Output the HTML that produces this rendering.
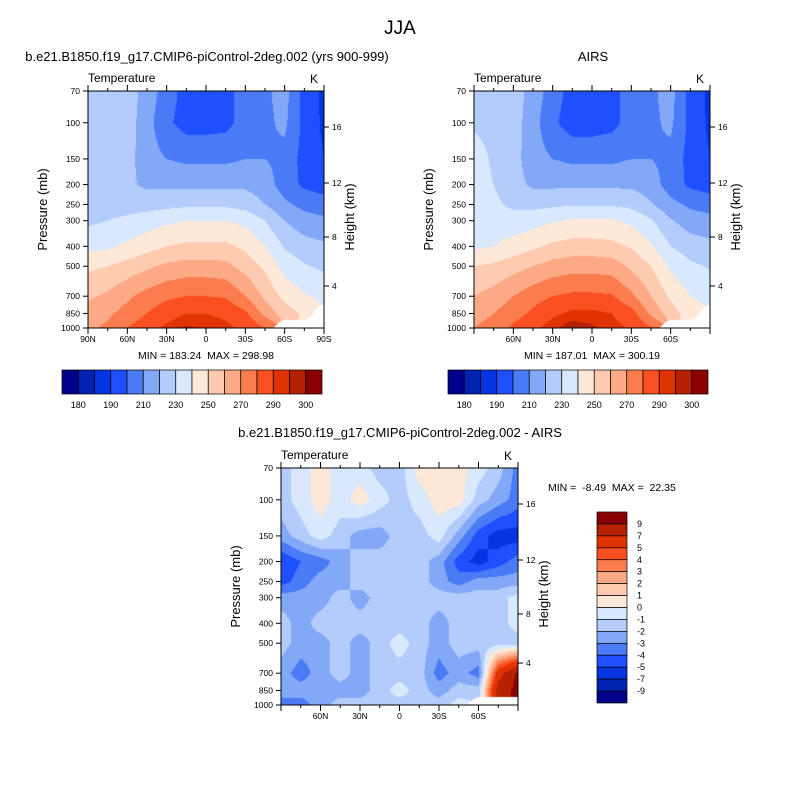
<!DOCTYPE html>
<html><head><meta charset="utf-8"><style>
body{margin:0;background:#fff;width:800px;height:800px;position:relative;overflow:hidden;font-family:"Liberation Sans",sans-serif;color:#000}
.t{position:absolute;white-space:nowrap}
canvas{position:absolute}
svg{position:absolute;left:0;top:0}
</style></head><body>
<div class="t" style="left:0;width:800px;text-align:center;top:18px;font-size:19px">JJA</div>
<div class="t" style="left:7px;width:400px;text-align:center;top:49px;font-size:13px">b.e21.B1850.f19_g17.CMIP6-piControl-2deg.002 (yrs 900-999)</div>
<div class="t" style="left:493px;width:200px;text-align:center;top:49px;font-size:13px">AIRS</div>
<div class="t" style="left:200px;width:400px;text-align:center;top:425px;font-size:13px">b.e21.B1850.f19_g17.CMIP6-piControl-2deg.002 - AIRS</div>
<canvas id="c1" width="236" height="237" style="left:88px;top:91px"></canvas>
<canvas id="c2" width="236" height="237" style="left:474px;top:91px"></canvas>
<canvas id="c3" width="237" height="237" style="left:281px;top:468px"></canvas>
<svg id="ov" width="800" height="800"></svg>
<script>
const pLevels=[70,100,150,200,250,300,400,500,700,850,1000];
const tempBounds=[180,185,190,200,210,220,230,240,250,260,270,280,290,295,300];
const diffBounds=[-9,-7,-5,-4,-3,-2,-1,0,1,2,3,4,5,7,9];
const tempLabels=["180","190","210","230","250","270","290","300"];
const diffLabels=["9","7","5","4","3","2","1","0","-1","-2","-3","-4","-5","-7","-9"];
const colors=["#00008b","#0022b0","#0535e0","#1e50ff","#4a7af5","#84a8f8","#b3ccfb","#d9e8fc","#fee9d8","#fecbb0","#fca985","#fb7c4e","#fa4f20","#e03300","#b42000","#8b0000"];
const modelT=[
[225,225,225,216,205,196,195,196,205,208,214,196,188],
[225,225,225,214,202,196,196,197,204,208,212,197,188],
[225,225,224,214,210,208,208,208,210,210,207,196,190],
[225,225,222,218,218,218,218,218,218,215,205,198,195],
[226,226,226,226,227,228,228,228,226,220,212,207,205],
[228,230,232,235,238,240,240,240,237,230,220,214,212],
[237,238,242,246,250,252,252,252,248,240,229,224,222],
[248,250,254,258,262,264,264,263,256,248,236,231,228],
[258,262,268,274,278,280,280,279,270,258,247,241,238],
[265,268,274,280,286,290,290,288,282,267,255,248,null],
[268,272,280,286,292,296,294,292,288,280,null,null,null]];
const obsT=[
[226,225,225,216,205,196,195,196,205,208,214,196,188],
[228,226,225,214,202,195,195,197,204,208,212,197,188],
[236,228,224,214,210,208,208,208,210,210,207,196,190],
[236,230,224,218,218,218,218,218,218,215,205,198,195],
[236,232,228,227,228,229,229,229,227,221,213,208,206],
[236,234,234,236,239,241,241,241,238,231,221,215,213],
[238,240,244,248,252,254,254,253,249,241,230,225,223],
[250,252,256,260,264,266,266,265,258,250,238,232,229],
[260,264,270,276,280,282,282,281,272,260,248,240,238],
[266,270,276,282,288,292,292,290,284,268,255,244,null],
[270,274,282,288,294,298,296,293,289,281,null,null,null]];
const diffT=[
[-1.5,-0.5,0.5,-0.5,-0.5,-1.5,-1.5,0.5,0.5,0.5,-0.5,-1.5,-3.5],
[-1.5,-0.5,0.5,-0.5,0.5,-0.5,-1.5,-0.5,0.5,0.5,-1.5,-2.5,-3.5],
[-2.5,-1.5,-0.5,-1.5,-2.5,-2.5,-1.5,-1.5,-0.5,-2.5,-4.5,-5.5,-5.5],
[-5,-4,-3.5,-2.5,-1.5,-1.5,-1.5,-1.5,-2.5,-4.5,-5.5,-4.5,-3.5],
[-4.5,-3.5,-2.5,-2.5,-1.5,-1.5,-1.5,-1.5,-2.5,-3.5,-2.5,-2.5,-2.5],
[-2.5,-2.5,-2.5,-1.5,-2.5,-1.5,-1.5,-1.5,-1.5,-1.5,-1.5,-1.5,-0.5],
[-1.5,-2.5,-1.5,-1.5,-1.5,-1.5,-1.5,-1.5,-2.5,-1.5,-1.5,-1.5,-0.5],
[-1.5,-2.5,-2.5,-1.5,-2.5,-1.5,-0.5,-1.5,-2.5,-1.5,-1.5,-1.5,-1.5],
[-2.5,-3.5,-2.5,-1.5,-2.5,-1.5,-1.5,-1.5,-3.5,-2.5,-3.5,6,9.5],
[-2.5,-2.5,-2.5,-2.5,-2.5,-1.5,-0.5,-1.5,-2.5,-1.5,-1.5,8,9.5],
[-3.5,-3.5,-2.5,-1.5,-1.5,-1.5,-1.5,-1.5,-1.5,-0.5,null,null,null]];

const H=237;
function yOf(p){return Math.log(p/70)/Math.log(1000/70)*H;}
function idx(v,b){let i=0;while(i<b.length&&v>=b[i])i++;return i;}
function drawField(id,grid,bounds,W){
  const ctx=document.getElementById(id).getContext('2d');
  const ry=pLevels.map(yOf), nc=grid[0].length;
  for(let py=0;py<H;py++){
    const y=py+0.5;let r=0;while(r<ry.length-2&&y>ry[r+1])r++;
    const fy=Math.min(1,Math.max(0,(y-ry[r])/(ry[r+1]-ry[r])));
    for(let px=0;px<W;px++){
      const gx=(px+0.5)/W*(nc-1);const c=Math.min(nc-2,Math.floor(gx));const fx=gx-c;
      const a=grid[r][c],b=grid[r][c+1],d=grid[r+1][c],e=grid[r+1][c+1];
      let v;
      if(a==null||b==null||d==null||e==null){
        const nn=[[a,(1-fx)*(1-fy)],[b,fx*(1-fy)],[d,(1-fx)*fy],[e,fx*fy]];
        let s=0,w=0,wn=0;nn.forEach(q=>{if(q[0]==null)wn+=q[1];else{s+=q[0]*q[1];w+=q[1];}});
        if(wn>0.45)continue; v=s/w;
      } else v=a*(1-fx)*(1-fy)+b*fx*(1-fy)+d*(1-fx)*fy+e*fx*fy;
      ctx.fillStyle=colors[idx(v,bounds)];ctx.fillRect(px,py,1,1);
    }
  }
}
drawField('c1',modelT,tempBounds,236);
drawField('c2',obsT,tempBounds,236);
drawField('c3',diffT,diffBounds,237);

const NS='http://www.w3.org/2000/svg',ov=document.getElementById('ov');
function el(tag,attrs,txt){const e=document.createElementNS(NS,tag);for(const k in attrs)e.setAttribute(k,attrs[k]);if(txt!=null)e.textContent=txt;ov.appendChild(e);return e;}
const kmTicks=[[16,36],[12,92],[8,146],[4,195]];
function axes(x0,y0,W,latLabels,name){
  let e;
  e=el('rect',{x:x0,y:y0,width:W,height:H,fill:'none',stroke:'#000','stroke-width':1});
  
  
  pLevels.forEach(p=>{const y=y0+yOf(p);
    el('line',{x1:x0-5,x2:x0,y1:y,y2:y,stroke:'#000'});
    e=el('text',{x:x0-8,y:y+3,'font-size':8.5,'text-anchor':'end'},String(p));
    
    
  });
  kmTicks.forEach(k=>{const y=y0+k[1];
    el('line',{x1:x0+W,x2:x0+W+5,y1:y,y2:y,stroke:'#000'});
    e=el('text',{x:x0+W+8,y:y+3,'font-size':8.5},String(k[0]));
    
    
  });
  for(let i=0;i<=12;i++){const x=x0+i*W/12,l=i%2==0?6:3;
    el('line',{x1:x,x2:x,y1:y0+H,y2:y0+H+l,stroke:'#000'});
    el('line',{x1:x,x2:x,y1:y0,y2:y0-l,stroke:'#000'});}
  latLabels.forEach((t,i)=>{if(!t)return;
    e=el('text',{x:x0+i*W/6,y:y0+H+14,'font-size':8.5,'text-anchor':'middle'},t);
    
    });
  e=el('text',{x:x0,y:y0-9,'font-size':12},'Temperature');
  
  e=el('text',{x:x0+W-6,y:y0-8,'font-size':12,'text-anchor':'end'},'K');
  
  e=el('text',{x:0,y:0,'font-size':13,'text-anchor':'middle',transform:`translate(${x0-41},${y0+H/2}) rotate(-90)`},'Pressure (mb)');
  
  e=el('text',{x:0,y:0,'font-size':13,'text-anchor':'middle',transform:`translate(${x0+W+30},${y0+126}) rotate(-90)`},'Height (km)');
  
}
axes(88,91,236,['90N','60N','30N','0','30S','60S','90S'],'model');
axes(474,91,236,['','60N','30N','0','30S','60S',''],'obs');
axes(281,468,237,['','60N','30N','0','30S','60S',''],'diff');
let e;
e=el('text',{x:206,y:359,'font-size':10.5,'text-anchor':'middle'},'MIN = 183.24\u00a0\u00a0MAX = 298.98');

e=el('text',{x:592,y:359,'font-size':10.5,'text-anchor':'middle'},'MIN = 187.01\u00a0\u00a0MAX = 300.19');

e=el('text',{x:548,y:491,'font-size':10.5},'MIN =\u00a0\u00a0-8.49\u00a0\u00a0MAX =\u00a0\u00a022.35');


function hbar(x0,name){const bw=260/16;
  colors.forEach((c,i)=>{e=el('rect',{x:x0+i*bw,y:370,width:bw,height:24,fill:c,stroke:'#000','stroke-width':0.7});
    });
  tempLabels.forEach((t,j)=>{e=el('text',{x:x0+(2*j+1)*bw,y:408,'font-size':9,'text-anchor':'middle'},t);
    });
}
hbar(62,'model');hbar(448,'obs');
const bh=191/16;
colors.slice().reverse().forEach((c,i)=>{e=el('rect',{x:597,y:512+i*bh,width:30,height:bh,fill:c,stroke:'#000','stroke-width':0.7});
  });
diffLabels.forEach((t,j)=>{e=el('text',{x:637,y:512+(j+1)*bh+3,'font-size':9},t);
  });
</script>
</body></html>
